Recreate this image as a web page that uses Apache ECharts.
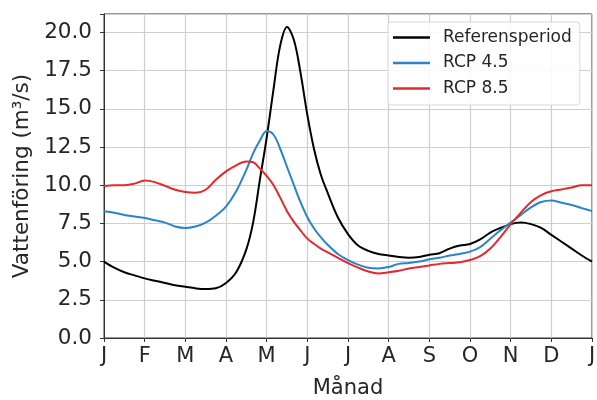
<!DOCTYPE html>
<html>
<head>
<meta charset="utf-8">
<script src="https://cdn.jsdelivr.net/npm/echarts@6/dist/echarts.min.js"></script>
<style>
html,body{margin:0;padding:0;background:#fff;}
#chart{width:597px;height:400px;}
</style>
</head>
<body>
<div id="chart"></div>
<script>
// Month position (0 = 1 Jan, 12 = 31 Dec)
var monthPos = [0, 0.25, 0.5, 0.75, 1, 1.25, 1.5, 1.75, 2, 2.25, 2.5, 2.75, 3, 3.25, 3.5, 3.67, 3.83, 4, 4.17, 4.33, 4.5, 4.67, 4.83, 5, 5.17, 5.33, 5.5, 5.75, 6, 6.25, 6.5, 6.75, 7, 7.25, 7.5, 7.75, 8, 8.25, 8.5, 8.75, 9, 9.25, 9.5, 9.75, 10, 10.25, 10.5, 10.75, 11, 11.25, 11.5, 11.75, 12];

var referensperiod = [5.0, 4.6, 4.3, 4.1, 3.9, 3.75, 3.6, 3.45, 3.35, 3.25, 3.2, 3.25, 3.6, 4.3, 5.8, 7.6, 10.3, 13.1, 16.3, 19.1, 20.35, 19.5, 17.4, 14.6, 12.3, 10.7, 9.5, 7.9, 6.8, 6.05, 5.7, 5.5, 5.4, 5.3, 5.25, 5.3, 5.45, 5.55, 5.85, 6.05, 6.15, 6.45, 6.9, 7.2, 7.45, 7.55, 7.45, 7.2, 6.75, 6.3, 5.85, 5.4, 5.0];

var rcp45 = [8.3, 8.2, 8.05, 7.95, 7.85, 7.7, 7.55, 7.3, 7.2, 7.3, 7.55, 8.0, 8.6, 9.6, 11.0, 12.1, 12.9, 13.55, 13.3, 12.4, 11.2, 10.0, 8.9, 7.9, 7.15, 6.6, 6.1, 5.5, 5.1, 4.8, 4.6, 4.55, 4.65, 4.85, 4.9, 5.0, 5.15, 5.25, 5.4, 5.5, 5.65, 5.95, 6.5, 7.05, 7.55, 8.05, 8.55, 8.9, 9.0, 8.85, 8.7, 8.5, 8.3];

var rcp85 = [9.95, 10.0, 10.0, 10.1, 10.3, 10.2, 9.95, 9.7, 9.55, 9.5, 9.7, 10.35, 10.9, 11.3, 11.55, 11.5, 11.1, 10.6, 10.0, 9.2, 8.3, 7.6, 7.05, 6.5, 6.15, 5.85, 5.6, 5.25, 4.9, 4.6, 4.35, 4.22, 4.3, 4.4, 4.55, 4.65, 4.75, 4.85, 4.9, 4.95, 5.1, 5.35, 5.85, 6.6, 7.45, 8.2, 8.9, 9.35, 9.6, 9.72, 9.85, 10.0, 10.0];

var monthLabels = ['J', 'F', 'M', 'A', 'M', 'J', 'J', 'A', 'S', 'O', 'N', 'D', 'J'];
var seriesNames = ['Referensperiod', 'RCP 4.5', 'RCP 8.5'];
var yTicks = [0, 2.5, 5, 7.5, 10, 12.5, 15, 17.5, 20];

function pairs(ys) {
  return monthPos.map(function (x, i) { return [x, ys[i]]; });
}

var txt = '#262626';
var font = 'DejaVu Sans';
var chart = echarts.init(document.getElementById('chart'), null, {renderer: 'canvas'});
chart.setOption({
  animation: false,
  backgroundColor: '#ffffff',
  grid: {left: 104, right: 5, top: 14, bottom: 62, show: true, borderColor: '#333', borderWidth: 1,
         backgroundColor: 'transparent', containLabel: false, outerBoundsMode: 'none'},
  legend: {
    orient: 'vertical',
    left: 388, top: 22,
    padding: [7, 8, 8, 5],
    icon: 'rect',
    itemWidth: 37, itemHeight: 2.5, itemGap: 8.5,
    borderColor: '#d8d8d8', borderWidth: 1, borderRadius: 3,
    backgroundColor: 'rgba(255,255,255,0.85)',
    textStyle: {fontFamily: font, fontSize: 17, color: txt, lineHeight: 14, padding: [0, 0, 0, 8]},
    data: seriesNames
  },
  xAxis: {
    type: 'value', min: 0, max: 12, interval: 1,
    name: 'Månad', nameLocation: 'middle', nameGap: 40,
    nameTextStyle: {fontFamily: font, fontSize: 21, color: txt},
    axisLine: {show: true, lineStyle: {color: '#333', width: 1}},
    axisTick: {show: true, inside: false, length: 4, lineStyle: {color: '#333'}},
    axisLabel: {fontFamily: font, fontSize: 21, color: txt, margin: 8,
      formatter: function (v) { return monthLabels[Math.round(v)] || ''; }},
    splitLine: {show: true, lineStyle: {color: '#cfcfcf', width: 1.2}}
  },
  yAxis: {
    type: 'value', min: 0, max: 21.2, interval: 2.5,
    name: 'Vattenföring (m³/s)', nameLocation: 'middle', nameGap: 71,
    nameTextStyle: {fontFamily: font, fontSize: 21.5, color: txt},
    axisLine: {show: true, lineStyle: {color: '#333', width: 1}},
    axisTick: {show: true, inside: false, length: 4, lineStyle: {color: '#333'}},
    axisLabel: {fontFamily: font, fontSize: 21.5, color: txt, margin: 12,
      formatter: function (v) { return yTicks.indexOf(v) >= 0 ? v.toFixed(1) : ''; }},
    splitLine: {show: true, lineStyle: {color: '#cfcfcf', width: 1.2}}
  },
  series: [
    {name: seriesNames[0], type: 'line', data: pairs(referensperiod), symbol: 'none', smooth: 0.35, lineStyle: {color: '#000000', width: 2}, itemStyle: {color: '#000000'}},
    {name: seriesNames[1], type: 'line', data: pairs(rcp45), symbol: 'none', smooth: 0.35, lineStyle: {color: '#2a84c9', width: 2}, itemStyle: {color: '#2a84c9'}},
    {name: seriesNames[2], type: 'line', data: pairs(rcp85), symbol: 'none', smooth: 0.35, lineStyle: {color: '#e3282e', width: 2}, itemStyle: {color: '#e3282e'}}
  ]
});
</script>
</body>
</html>
